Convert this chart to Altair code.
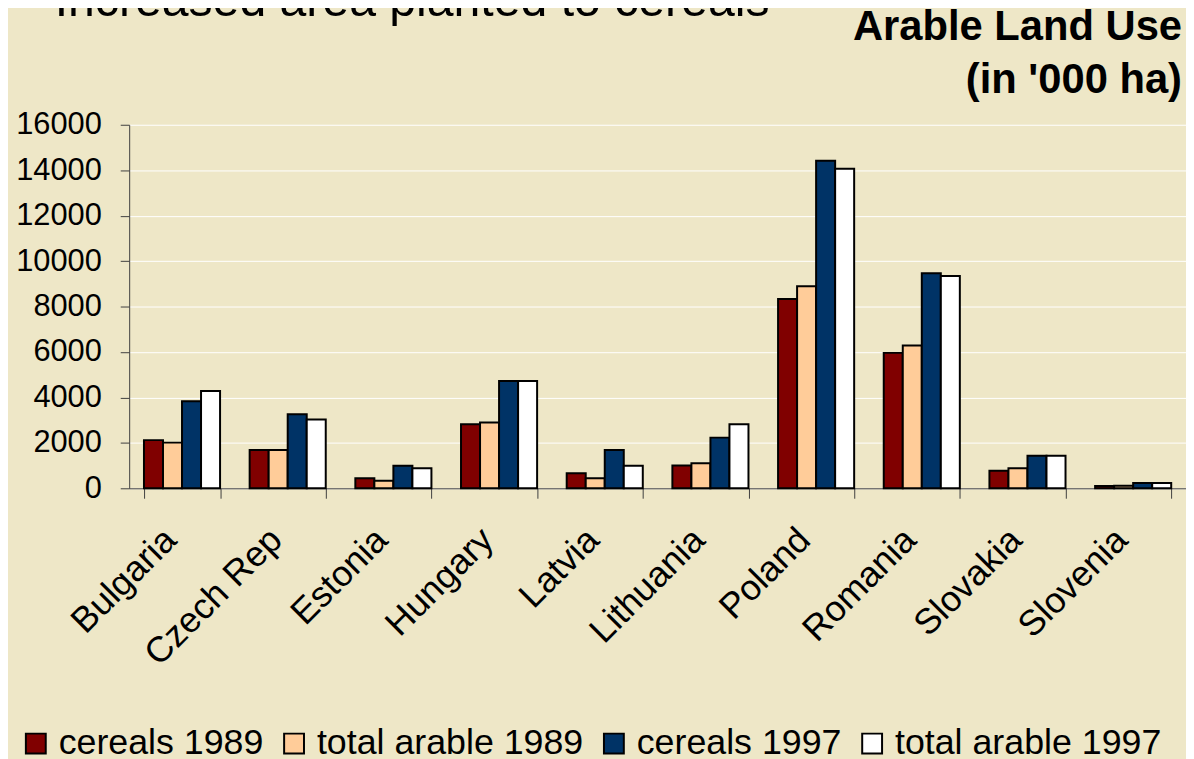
import altair as alt
import pandas as pd

# ---- data ----
countries = ["Bulgaria", "Czech Rep", "Estonia", "Hungary", "Latvia",
             "Lithuania", "Poland", "Romania", "Slovakia", "Slovenia"]
series_names = ["cereals 1989", "total arable 1989", "cereals 1997", "total arable 1997"]
cereals_1989 = [2120, 1680, 440, 2820, 660, 1000, 8330, 5960, 770, 100]
total_arable_1989 = [2010, 1680, 330, 2900, 440, 1100, 8890, 6280, 880, 110]
cereals_1997 = [3830, 3260, 990, 4720, 1680, 2230, 14420, 9460, 1430, 230]
total_arable_1997 = [4280, 3030, 880, 4720, 990, 2820, 14060, 9340, 1430, 230]
series_colors = ["#800000", "#FFCC99", "#003366", "#FFFFFF"]
y_ticks = [0, 2000, 4000, 6000, 8000, 10000, 12000, 14000, 16000]
header_text = "Increased area planted to cereals"
title_lines = ["Arable Land Use", "(in '000 ha)"]

BG = "#EEE7C7"
FONT = "Liberation Sans"
AXIS_COL = "#404040"

rows = []
for name, vals in zip(series_names,
                      [cereals_1989, total_arable_1989, cereals_1997, total_arable_1997]):
    for c, v in zip(countries, vals):
        rows.append({"country": c, "series": name, "value": v})
df = pd.DataFrame(rows)

bars = alt.Chart(df).mark_bar(stroke="black", strokeWidth=2).encode(
    x=alt.X("country:N", sort=countries,
            scale=alt.Scale(paddingInner=0.28, paddingOuter=0.14),
            axis=alt.Axis(title=None, labelAngle=-45, labelAlign="right",
                          labelBaseline="middle", labelFontSize=36,
                          labelPadding=36, labelOffset=-12,
                          tickBand="extent", tickSize=10,
                          domainColor=AXIS_COL, tickColor=AXIS_COL,
                          labelColor="black", grid=False)),
    xOffset=alt.XOffset("series:N", sort=series_names,
                        scale=alt.Scale(paddingInner=0, paddingOuter=0)),
    y=alt.Y("value:Q",
            scale=alt.Scale(domain=[0, 16000], nice=False),
            axis=alt.Axis(title=None, values=y_ticks, format="d", labelFontSize=31,
                          labelPadding=19, tickSize=9, grid=True,
                          gridColor="white", gridWidth=1, gridOpacity=1,
                          domainColor=AXIS_COL, tickColor=AXIS_COL,
                          labelColor="black")),
    color=alt.Color("series:N", sort=series_names,
                    scale=alt.Scale(domain=series_names, range=series_colors),
                    legend=alt.Legend(orient="none", legendX=-112, legendY=605,
                                      direction="horizontal", title=None,
                                      symbolType="square", symbolSize=400,
                                      symbolStrokeColor="black", symbolStrokeWidth=2,
                                      symbolOpacity=1,
                                      labelFontSize=36, labelOffset=5,
                                      columnPadding=12, labelLimit=500,
                                      labelColor="black", padding=0,
                                      labelBaseline="middle")),
)

header = alt.Chart(pd.DataFrame({"t": [header_text]})).mark_text(
    align="left", baseline="alphabetic", fontSize=48.5, font=FONT, color="black"
).encode(x=alt.value(-75), y=alt.value(-109), text="t:N")

title = alt.Chart(pd.DataFrame({"t": [0]})).mark_text(
    align="right", baseline="alphabetic", fontSize=42, fontWeight="bold",
    font=FONT, color="black", lineHeight=53, text=title_lines
).encode(x=alt.value(1060), y=alt.value(-85))

chart = alt.layer(bars, header, title).properties(
    width=1064, height=366,
    padding={"left": 122, "top": 115, "right": 0, "bottom": 270},
    autosize=alt.AutoSizeParams(type="none"),
    background=BG,
).configure(font=FONT).configure_view(stroke=None)

chart.save("out.html", embed_options={"renderer": "svg", "actions": False})
